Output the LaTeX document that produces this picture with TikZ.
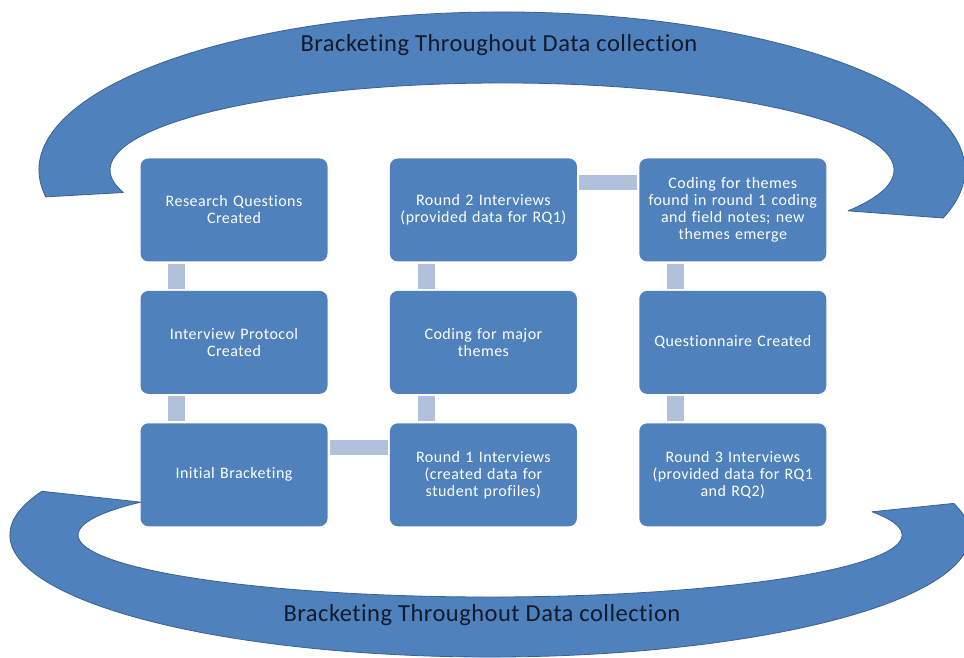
\documentclass[tikz,border=0pt]{standalone}
\usepackage{fontspec}
\setmainfont{Carlito}
\newfontfamily\boxfont[LetterSpace=3,Ligatures=NoCommon]{Carlito}
\newfontfamily\bandfont[LetterSpace=2,Ligatures=NoCommon]{Carlito}
\usetikzlibrary{positioning}
\definecolor{cBox}{HTML}{4F81BD}
\definecolor{cLink}{HTML}{B2C1DB}
\definecolor{cBand}{HTML}{4F81BD}
\definecolor{cBandLine}{HTML}{3A6190}
\definecolor{cBandText}{HTML}{121A2C}

\begin{document}
\begin{tikzpicture}[
    x=1pt, y=1pt,
    node distance=29pt and 62pt,
    box/.style={fill=cBox, rounded corners=8pt, align=center, text=white, font=\boxfont\fontsize{16}{17}\selectfont, text width=180pt, inner xsep=3.5pt, minimum height=103pt},
    vlink/.style={draw=cLink, line width=17pt, shorten <=2pt, shorten >=2pt},
    hlink/.style={draw=cLink, line width=15pt, shorten <=2pt, shorten >=2pt},
    band/.style={fill=cBand, draw=cBandLine, line width=0.8pt, line join=round},
    bandtext/.style={text=cBandText, font=\bandfont\fontsize{24.5}{28}\selectfont}
]
\useasboundingbox (0,0) rectangle (964,658);

% the two block arcs around the grid
\coordinate (topc) at (502,488);
\coordinate (botc) at (490,123);
\filldraw[band] ([shift={(189.8:463pt and 158pt)}]topc) arc[start angle=189.8, end angle=-17.7, x radius=463pt, y radius=158pt]
    -- ([shift={(-28:392pt and 87pt)}]topc) arc[start angle=-28, end angle=195, x radius=392pt, y radius=87pt] -- cycle;
\filldraw[band] ([shift={(159:480pt and 122pt)}]botc) arc[start angle=159, end angle=375, x radius=480pt, y radius=122pt]
    -- ([shift={(382:412pt and 62pt)}]botc) arc[start angle=382, end angle=148, x radius=412pt, y radius=62pt] -- cycle;

\node[bandtext] (toplabel) at (499,613) {Bracketing Throughout Data collection};
\node[bandtext] (botlabel) at (482,43) {Bracketing Throughout Data collection};

\node[box] (rq) at (234,448) {Research Questions\\Created};
\node[box, below=of rq] (ip) {Interview Protocol\\Created};
\node[box, below=of ip] (ib) {Initial Bracketing};
\node[box, right=of ib] (r1) {Round 1 Interviews\\(created data for\\student profiles)};
\node[box, above=of r1] (cm) {Coding for major\\themes};
\node[box, above=of cm] (r2) {Round 2 Interviews\\(provided data for RQ1)};
\node[box, right=of r2] (ct) {Coding for themes\\found in round 1 coding\\and field notes; new\\themes emerge};
\node[box, below=of ct] (qc) {Questionnaire Created};
\node[box, below=of qc] (r3) {Round 3 Interviews\\(provided data for RQ1\\and RQ2)};

\draw[vlink] ([xshift=36.5pt]rq.south west) -- ([xshift=36.5pt]ip.north west);
\draw[vlink] ([xshift=36.5pt]ip.south west) -- ([xshift=36.5pt]ib.north west);
\draw[hlink] ([yshift=-24pt]ib.north east) -- ([yshift=-24pt]r1.north west);
\draw[vlink] ([xshift=36.5pt]r1.north west) -- ([xshift=36.5pt]cm.south west);
\draw[vlink] ([xshift=36.5pt]cm.north west) -- ([xshift=36.5pt]r2.south west);
\draw[hlink] ([yshift=-24pt]r2.north east) -- ([yshift=-24pt]ct.north west);
\draw[vlink] ([xshift=36.5pt]ct.south west) -- ([xshift=36.5pt]qc.north west);
\draw[vlink] ([xshift=36.5pt]qc.south west) -- ([xshift=36.5pt]r3.north west);

\end{tikzpicture}
\end{document}
